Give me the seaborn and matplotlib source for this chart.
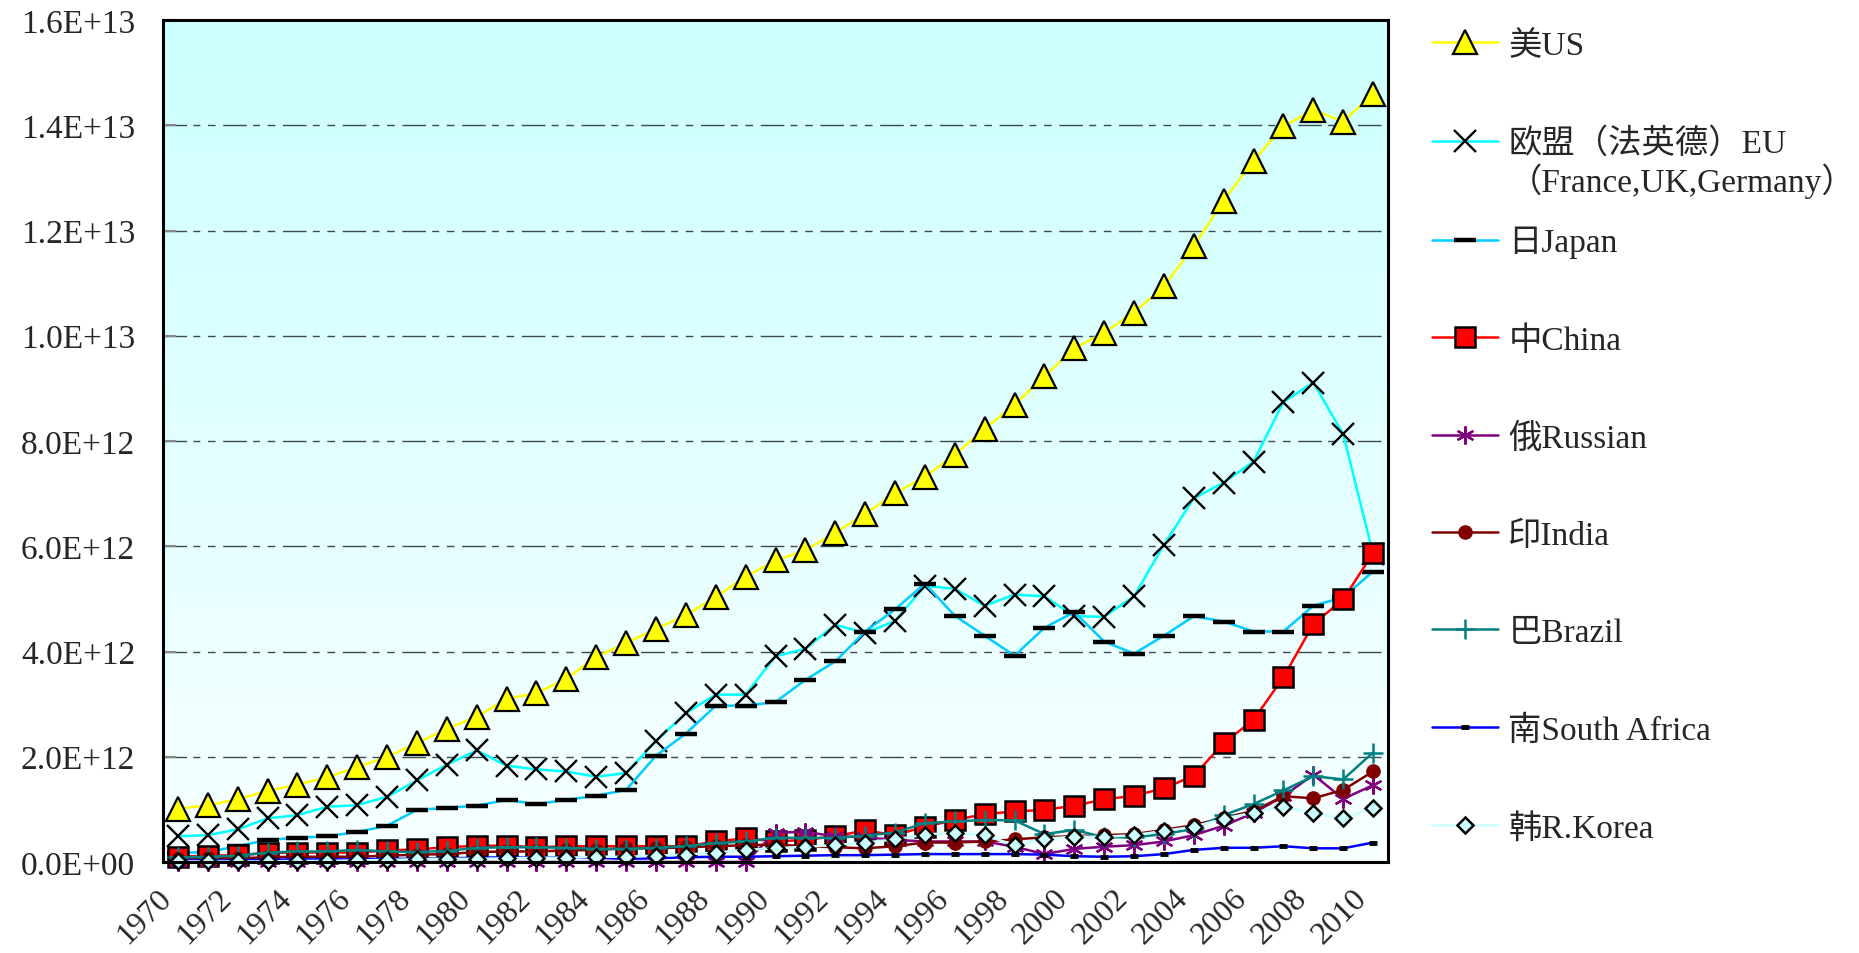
import numpy as np
import seaborn as sns
import matplotlib.pyplot as plt
import matplotlib.transforms as mtransforms
from matplotlib.colors import LinearSegmentedColormap
from matplotlib.ticker import FixedLocator, FuncFormatter

# values in 1E12
years = list(range(1970, 2011))
us = [1.01, 1.08, 1.19, 1.35, 1.47, 1.61, 1.80, 2.00, 2.26, 2.53, 2.76, 3.10, 3.21, 3.48,
      3.90, 4.16, 4.43, 4.69, 5.04, 5.42, 5.73, 5.92, 6.26, 6.61, 7.01, 7.32, 7.74, 8.23,
      8.69, 9.23, 9.76, 10.06, 10.44, 10.94, 11.70, 12.57, 13.33, 13.98, 14.29, 14.07, 14.60]
eu = [0.49, 0.51, 0.62, 0.83, 0.89, 1.05, 1.08, 1.24, 1.55, 1.85, 2.12, 1.83, 1.76, 1.72,
      1.62, 1.69, 2.30, 2.83, 3.18, 3.18, 3.91, 4.05, 4.51, 4.35, 4.58, 5.25, 5.19, 4.87,
      5.08, 5.05, 4.67, 4.66, 5.05, 6.03, 6.91, 7.21, 7.61, 8.74, 9.11, 8.13, 5.85]
japan = [0.17, 0.19, 0.30, 0.42, 0.46, 0.49, 0.57, 0.69, 0.99, 1.03, 1.07, 1.18, 1.10, 1.18,
         1.26, 1.37, 2.02, 2.44, 2.97, 2.97, 3.04, 3.46, 3.81, 4.38, 4.80, 5.29, 4.68, 4.30,
         3.92, 4.45, 4.75, 4.19, 3.96, 4.30, 4.67, 4.57, 4.38, 4.38, 4.87, 5.03, 5.52]
china = [0.10, 0.12, 0.13, 0.17, 0.18, 0.18, 0.18, 0.22, 0.24, 0.28, 0.31, 0.31, 0.28, 0.30,
         0.30, 0.30, 0.30, 0.30, 0.39, 0.45, 0.39, 0.42, 0.49, 0.60, 0.51, 0.67, 0.80, 0.91,
         0.96, 0.99, 1.07, 1.19, 1.26, 1.40, 1.64, 2.26, 2.70, 3.51, 4.52, 4.99, 5.87]
russia = [0.0] * 20 + [0.56, 0.57, 0.49, 0.47, 0.42, 0.39, 0.39, 0.39, 0.29, 0.15, 0.25,
                       0.29, 0.32, 0.39, 0.51, 0.69, 0.93, 1.25, 1.66, 1.20, 1.46]
india = [0.06, 0.07, 0.07, 0.09, 0.10, 0.10, 0.10, 0.12, 0.14, 0.15, 0.19, 0.20, 0.20, 0.22,
         0.23, 0.26, 0.26, 0.28, 0.30, 0.32, 0.33, 0.30, 0.28, 0.26, 0.30, 0.37, 0.37, 0.39,
         0.43, 0.47, 0.49, 0.51, 0.53, 0.61, 0.70, 0.84, 0.97, 1.25, 1.21, 1.37, 1.72]
brazil = [0.09, 0.10, 0.12, 0.18, 0.20, 0.20, 0.23, 0.20, 0.19, 0.21, 0.27, 0.28, 0.28, 0.27,
          0.25, 0.25, 0.27, 0.30, 0.36, 0.39, 0.46, 0.46, 0.46, 0.50, 0.56, 0.74, 0.77, 0.80,
          0.79, 0.53, 0.61, 0.47, 0.47, 0.53, 0.63, 0.89, 1.10, 1.36, 1.63, 1.57, 2.08]
safrica = [0.03, 0.03, 0.03, 0.04, 0.05, 0.05, 0.05, 0.06, 0.06, 0.07, 0.08, 0.09, 0.08, 0.09,
           0.08, 0.06, 0.07, 0.09, 0.10, 0.10, 0.11, 0.12, 0.13, 0.13, 0.14, 0.15, 0.15, 0.15,
           0.15, 0.14, 0.11, 0.10, 0.11, 0.15, 0.23, 0.27, 0.27, 0.30, 0.26, 0.26, 0.37]
korea = [0.01, 0.01, 0.01, 0.01, 0.02, 0.02, 0.03, 0.04, 0.05, 0.06, 0.06, 0.07, 0.08, 0.08,
         0.10, 0.10, 0.12, 0.14, 0.18, 0.23, 0.26, 0.29, 0.32, 0.37, 0.43, 0.52, 0.56, 0.51,
         0.32, 0.44, 0.48, 0.48, 0.51, 0.59, 0.67, 0.82, 0.94, 1.05, 0.93, 0.83, 1.02]

names = ['美US', '欧盟（法英德）EU', '日Japan', '中China', '俄Russian',
         '印India', '巴Brazil', '南South Africa', '韩R.Korea']
eu_second_line = '（France,UK,Germany）'
tick_years = [str(y) for y in range(1970, 2011, 2)]

styles = [
    dict(color='#FFFF00', marker='^', markersize=17, markerfacecolor='#FFFF00',
         markeredgecolor='black', markeredgewidth=1.6),
    dict(color='#00FFFF', marker='x', markersize=16.5, markeredgecolor='black',
         markeredgewidth=1.7),
    dict(color='#00CCFF', marker='_', markersize=16, markeredgecolor='black',
         markeredgewidth=3.2),
    dict(color='#FF0000', marker='s', markersize=15, markerfacecolor='#FF0000',
         markeredgecolor='black', markeredgewidth=1.8),
    dict(color='#800080', marker=(6, 2, 0), markersize=13, markeredgecolor='#800080',
         markeredgewidth=1.6),
    dict(color='#800000', marker='o', markersize=9.5, markerfacecolor='#800000',
         markeredgecolor='#800000', markeredgewidth=1),
    dict(color='#008080', marker='+', markersize=14, markeredgecolor='#008080',
         markeredgewidth=1.8),
    dict(color='#0000FF', marker='_', markersize=6, markeredgecolor='black',
         markeredgewidth=3.5),
    dict(color='#CCFFFF', marker='D', markersize=8.5, markerfacecolor='#CCFFFF',
         markeredgecolor='black', markeredgewidth=1.8),
]
series = [us, eu, japan, china, russia, india, brazil, safrica, korea]

sns.set_style('white')
plt.rcParams['font.family'] = ['Liberation Serif', 'Noto Sans CJK SC', 'DejaVu Sans']

W, H = 1859, 954
fig = plt.figure(figsize=(W / 100, H / 100), dpi=100)
ax = fig.add_axes([163 / W, 1 - 863 / H, (1388 - 163) / W, (863 - 21) / H])

# light cyan gradient behind the plot
bg = LinearSegmentedColormap.from_list('bg', ['#F8FFFF', '#CCFFFF'])
ax.imshow(np.linspace(0, 1, 256).reshape(-1, 1), extent=[0, 1, 0, 1], transform=ax.transAxes,
          origin='lower', cmap=bg, aspect='auto', zorder=0)

for name, vals, st in zip(names, series, styles):
    sns.lineplot(x=years, y=np.array(vals) * 1e12, ax=ax, label=name, linewidth=1.8,
                 clip_on=False, **st)

ax.set_xlim(1969.5, 2010.5)
ax.set_ylim(0, 1.6e13)
ax.set_xlabel('')
ax.set_ylabel('')

ax.set_axisbelow(True)
ax.yaxis.set_major_locator(FixedLocator(np.arange(0, 1.61e13, 2e12)))
ax.yaxis.set_major_formatter(FuncFormatter(lambda v, p: f'{v:.1E}'))
ax.yaxis.grid(True, color='#3c4a50', linewidth=1,
              linestyle=(0, (17, 4.5, 5, 5.5, 5.5, 5.5)))
ax.xaxis.grid(False)

ax.set_xticks(np.arange(1969.5, 2010, 2))
ax.set_xticks(np.arange(1969.5, 2011, 1), minor=True)
ax.set_xticklabels(tick_years, rotation=45, ha='right', va='top', rotation_mode='anchor')
ax.tick_params(axis='x', which='both', direction='in', length=7, width=1.2, color='#555555',
               labelsize=23, pad=15)
ax.tick_params(axis='y', direction='in', length=9, width=1.5, color='#888888',
               labelsize=24, pad=20, left=True)
shift = mtransforms.ScaledTranslation(-0.06, 0, fig.dpi_scale_trans)
for lab in ax.get_xticklabels():
    lab.set_transform(lab.get_transform() + shift)

for s in ax.spines.values():
    s.set_visible(True)
    s.set_color('black')
    s.set_linewidth(2.2)

handles, labels = ax.get_legend_handles_labels()
leg = ax.legend(handles, labels, loc='upper left', bbox_to_anchor=(1432 / W, 1 - 31 / H),
                bbox_transform=fig.transFigure, frameon=False, fontsize=24, numpoints=1,
                handlelength=1.97, handletextpad=0.32, labelspacing=2.0,
                borderaxespad=0, borderpad=0)

# second line of the EU label, hanging under the first one
fig.canvas.draw()
bb = leg.get_texts()[1].get_window_extent()
fig.text(bb.x0 / W, ((bb.y0 + bb.y1) / 2 - 37) / H, eu_second_line,
         ha='left', va='center', fontsize=24)

fig.savefig('out.png', dpi=100)
